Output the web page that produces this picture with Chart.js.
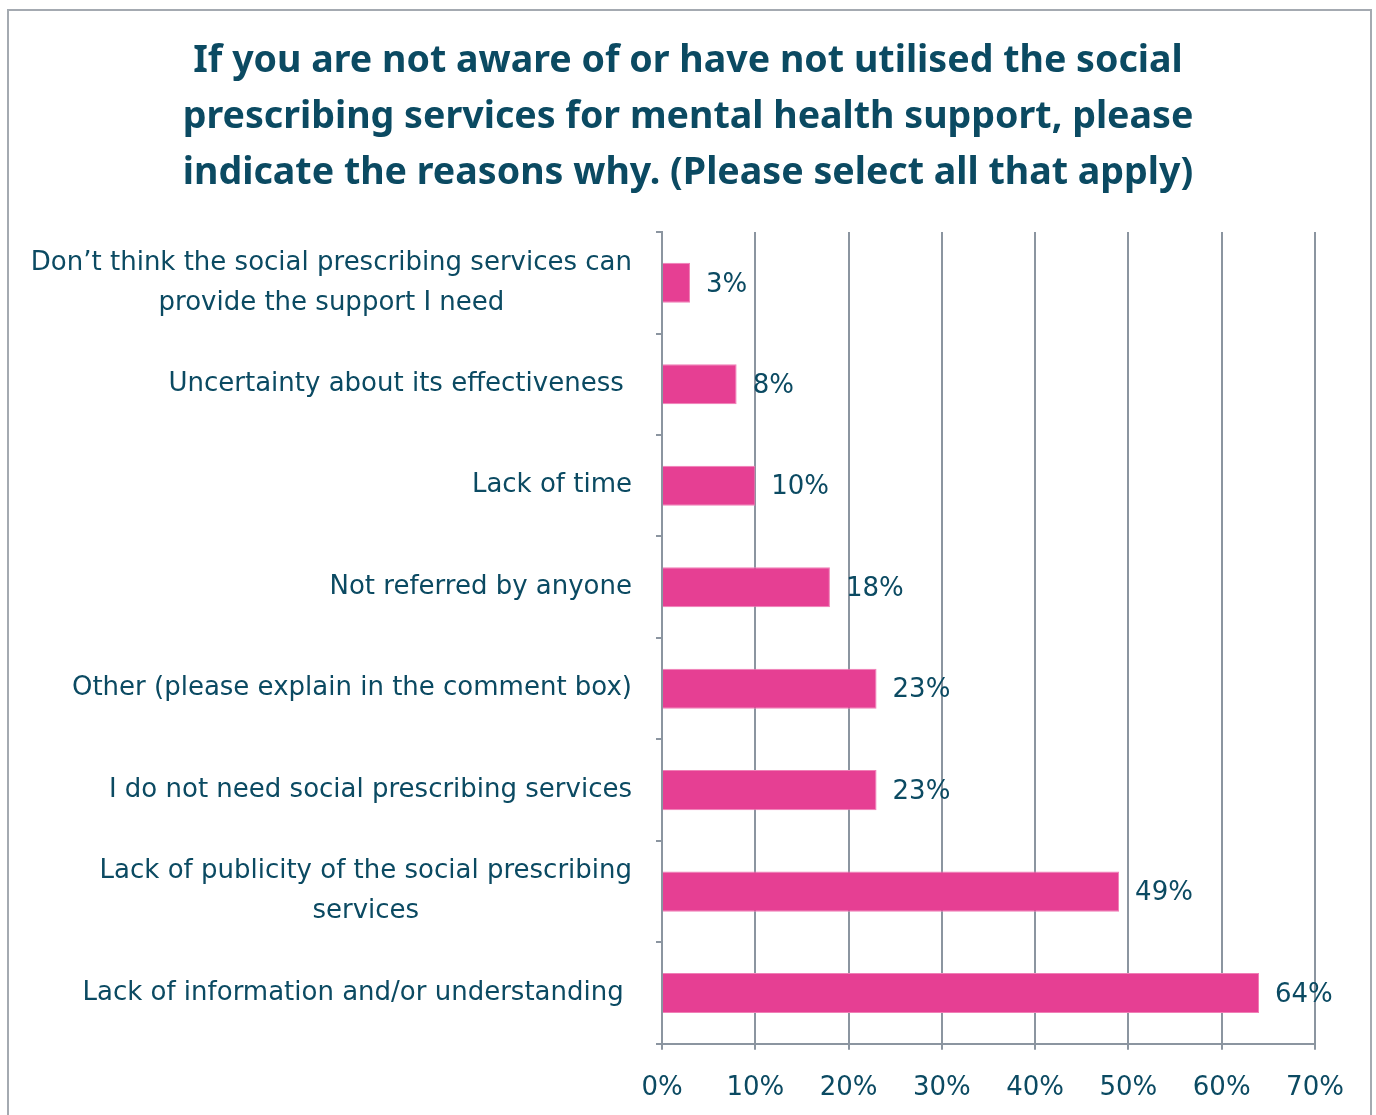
<!DOCTYPE html>
<html>
<head>
<meta charset="utf-8">
<script src="https://cdn.jsdelivr.net/npm/chart.js@4.4.0/dist/chart.umd.min.js"></script>
<style>
  html, body { margin: 0; padding: 0; background: #fff; }
  #wrap { position: relative; width: 1376px; height: 1115px; overflow: hidden; }
  #frame { position: absolute; left: 7px; top: 9px; width: 1361px; height: 1200px; border: 2px solid #a4aab1; }
  #chart { position: absolute; left: 0; top: 0; }
</style>
</head>
<body>
<div id="wrap">
  <div id="frame"></div>
  <canvas id="chart" width="1376" height="1141"></canvas>
</div>
<script>
// Survey answers, top to bottom
var reasons = [
    ['Don\u2019t think the social prescribing services can', 'provide the support I need'],
    ['Uncertainty about its effectiveness '],
    ['Lack of time'],
    ['Not referred by anyone'],
    ['Other (please explain in the comment box)'],
    ['I do not need social prescribing services'],
    ['Lack of publicity of the social prescribing', 'services'],
    ['Lack of information and/or understanding ']
];
var percentages = [3, 8, 10, 18, 23, 23, 49, 64];
var axisTicks = [0, 10, 20, 30, 40, 50, 60, 70];

var textColor = '#0b4a62';
var gridColor = '#8b95a0';
var barColor = '#e63f93';
var labelFont = '"DejaVu Sans", sans-serif';
var labelSize = 26;

// Category labels: each label right-aligned as a block, lines centred inside it
var categoryLabels = {
    id: 'categoryLabels',
    afterDraw: function(chart) {
        var ctx = chart.ctx;
        var yScale = chart.scales.y;
        var right = chart.chartArea.left - 30;
        ctx.save();
        ctx.font = labelSize + 'px ' + labelFont;
        ctx.fillStyle = textColor;
        ctx.textAlign = 'center';
        ctx.textBaseline = 'middle';
        reasons.forEach(function(lines, i) {
            var w = Math.max.apply(null, lines.map(function(l) { return ctx.measureText(l).width; }));
            var cy = yScale.getPixelForValue(i);
            var top = cy - (lines.length - 1) * 20;
            lines.forEach(function(l, j) {
                ctx.fillText(l, right - w / 2, top + j * 40);
            });
        });
        ctx.restore();
    }
};

// Percent labels just past the end of each bar
var valueLabels = {
    id: 'valueLabels',
    afterDatasetsDraw: function(chart) {
        var ctx = chart.ctx;
        var meta = chart.getDatasetMeta(0);
        ctx.save();
        ctx.font = labelSize + 'px ' + labelFont;
        ctx.fillStyle = textColor;
        ctx.textAlign = 'left';
        ctx.textBaseline = 'middle';
        meta.data.forEach(function(bar, i) {
            ctx.fillText(percentages[i] + '%', bar.x + 16, bar.y + 2);
        });
        ctx.restore();
    }
};

var ctx = document.getElementById('chart').getContext('2d');
new Chart(ctx, {
    type: 'bar',
    data: {
        labels: reasons.map(function(r) { return r.join(' '); }),
        datasets: [{
            data: percentages,
            backgroundColor: barColor,
            borderColor: '#f07fb6',
            borderWidth: 1,
            barPercentage: 0.395,
            categoryPercentage: 1
        }]
    },
    options: {
        indexAxis: 'y',
        responsive: false,
        animation: false,
        layout: { padding: { top: 23, right: 61, bottom: 14, left: 61 } },
        plugins: {
            legend: { display: false },
            tooltip: { enabled: false },
            title: {
                display: true,
                text: [
                    'If you are not aware of or have not utilised the social',
                    'prescribing services for mental health support, please',
                    'indicate the reasons why. (Please select all that apply)'
                ],
                color: textColor,
                font: { family: '"Noto Sans", sans-serif', size: 37.6, weight: 'bold', lineHeight: 1.49 },
                padding: { top: 10, bottom: 31 }
            }
        },
        scales: {
            x: {
                min: 0,
                max: 70,
                afterBuildTicks: function(scale) {
                    scale.ticks = axisTicks.map(function(v) { return { value: v }; });
                },
                ticks: {
                    color: textColor,
                    font: { family: labelFont, size: labelSize },
                    padding: 23,
                    callback: function(v) { return v + '%'; }
                },
                grid: { color: gridColor, lineWidth: 2, tickLength: 6 },
                border: { color: gridColor, width: 2 }
            },
            y: {
                ticks: { display: false },
                grid: { drawOnChartArea: false, color: gridColor, lineWidth: 2, tickLength: 6 },
                border: { color: gridColor, width: 2 },
                afterFit: function(scale) { scale.width = 601; }
            }
        }
    },
    plugins: [categoryLabels, valueLabels]
});
</script>
</body>
</html>
